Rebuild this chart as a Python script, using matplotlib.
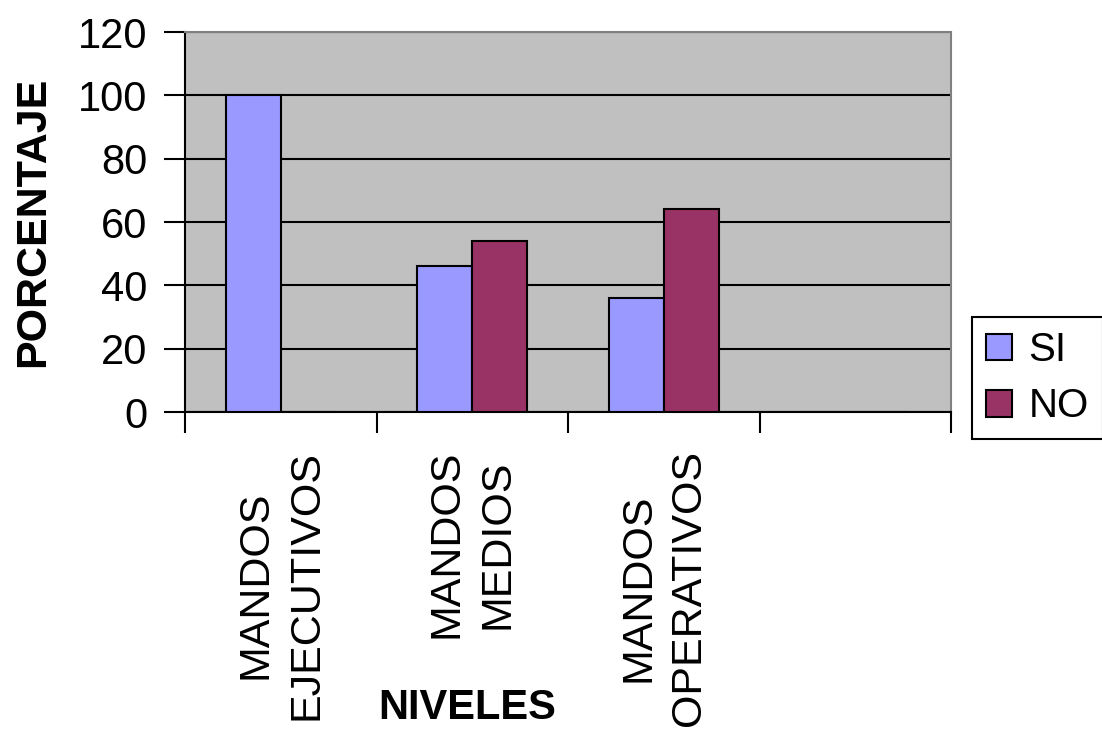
import matplotlib
matplotlib.use('Agg')
import matplotlib.pyplot as plt
from matplotlib.patches import Patch
import numpy as np

plt.rcParams['font.family'] = ['Liberation Sans', 'DejaVu Sans']

categorias = ['MANDOS\nEJECUTIVOS', 'MANDOS\nMEDIOS', 'MANDOS\nOPERATIVOS', '']
si_valores = [100, 46, 36, 0]
no_valores = [0, 54, 64, 0]
y_ticks = [0, 20, 40, 60, 80, 100, 120]

color_si = '#9999FF'
color_no = '#993366'

fig = plt.figure(figsize=(11.02, 7.3), dpi=100)
ax = fig.add_axes([0.1679, 0.4356, 0.6951, 0.5205])
ax.set_facecolor('#C0C0C0')

centros = np.arange(len(categorias)) + 0.5
w = 0.287
ax.bar(centros - w / 2, si_valores, w, color=color_si, edgecolor='black', linewidth=1.5, zorder=3)
ax.bar(centros + w / 2, no_valores, w, color=color_no, edgecolor='black', linewidth=1.5, zorder=3)

ax.set_xlim(0, len(categorias))
ax.set_ylim(0, 120)
ax.set_yticks(y_ticks)
ax.tick_params(axis='y', labelsize=30, length=15, width=1.5, pad=12)
ax.yaxis.grid(True, color='black', linewidth=1.5, zorder=1)

ax.set_xticks(np.arange(len(categorias) + 1))
ax.set_xticklabels([])
ax.tick_params(axis='x', which='major', length=15, width=1.5)
ax.set_xticks(centros, categorias, minor=True)
ax.tick_params(axis='x', which='minor', length=0, pad=27, labelsize=31)
for lbl in ax.get_xticklabels(minor=True):
    lbl.set_rotation(90)
    lbl.set_va('top')
    lbl.set_ha('center')
    lbl.set_multialignment('center')
    lbl.set_linespacing(1.35)

for s in ['left', 'bottom']:
    ax.spines[s].set_color('black')
    ax.spines[s].set_linewidth(1.5)
for s in ['top', 'right']:
    ax.spines[s].set_color('#808080')
    ax.spines[s].set_linewidth(1.5)

ax.set_ylabel('PORCENTAJE', fontsize=31, fontweight='bold')
ax.yaxis.set_label_coords(-0.172, 0.5)
ax.set_xlabel('NIVELES', fontsize=30, fontweight='bold')
ax.xaxis.set_label_coords(0.368, -0.726)

handles = [Patch(facecolor=color_si, edgecolor='black', linewidth=1.5),
           Patch(facecolor=color_no, edgecolor='black', linewidth=1.5)]
leg = fig.legend(handles, ['SI', 'NO'], loc='upper left',
                 bbox_to_anchor=(972 / 1102, 1 - 317 / 730), fontsize=29,
                 handlelength=0.65, handleheight=0.65, handletextpad=0.4,
                 borderpad=0.35, labelspacing=0.45, fancybox=False,
                 edgecolor='black', framealpha=1, borderaxespad=0)
leg.get_frame().set_linewidth(1.5)

fig.savefig('out.png', dpi=100)
